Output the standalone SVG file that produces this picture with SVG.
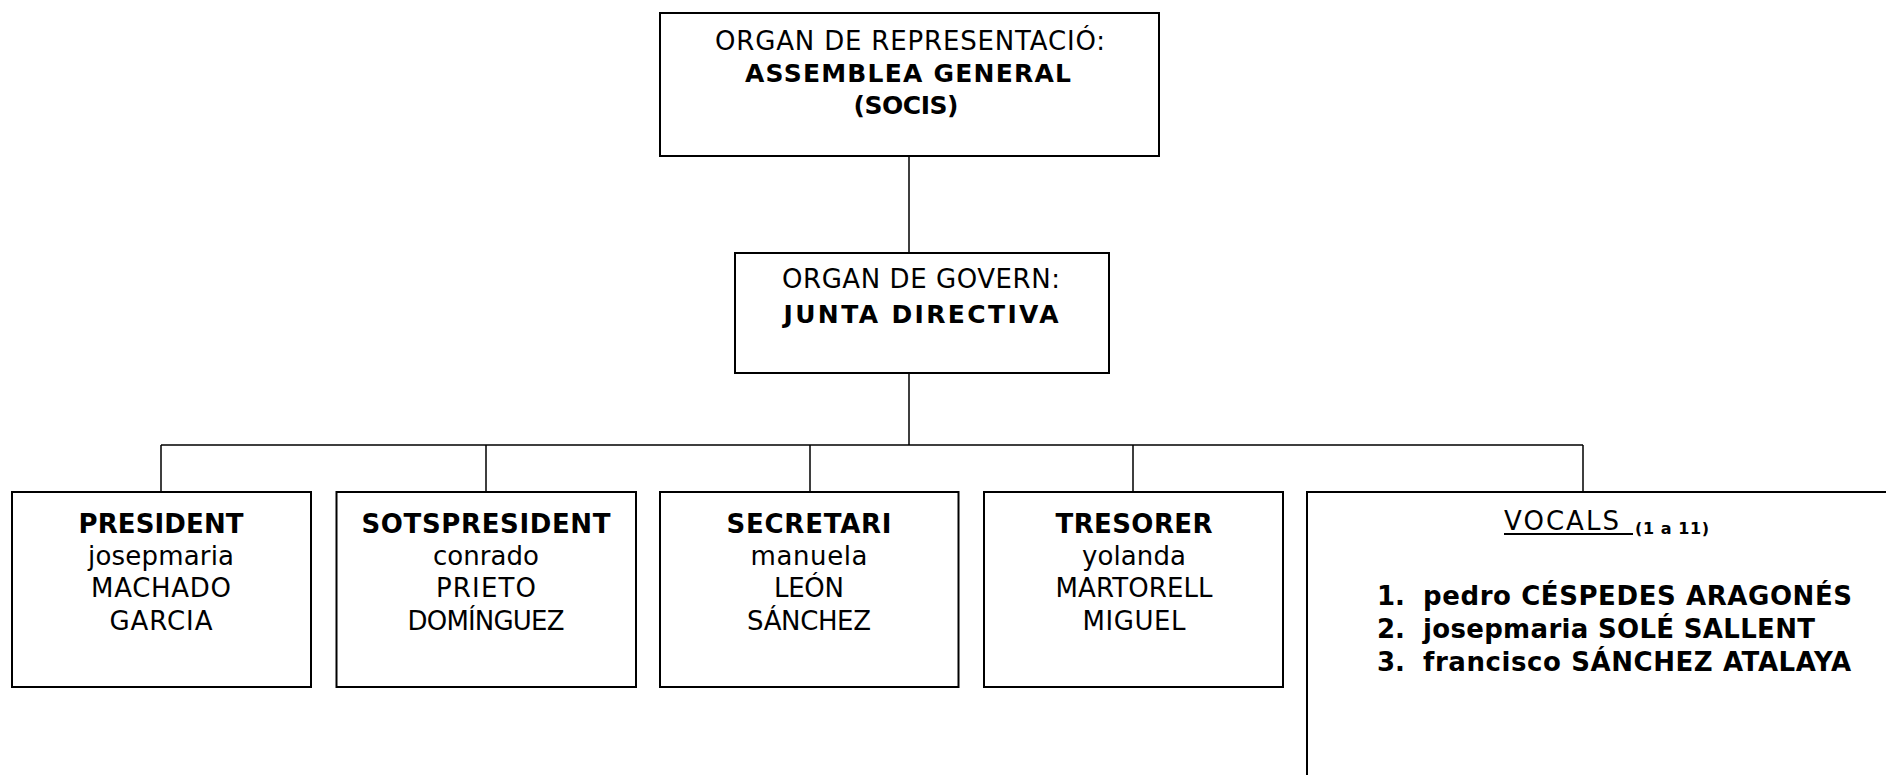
<svg xmlns="http://www.w3.org/2000/svg" width="1886" height="775" viewBox="0 0 1886 775">
<style>
  .box{fill:#fff;stroke:#000;stroke-width:2}
  .conn{stroke:#000;stroke-width:1.5;fill:none}
  text{font-family:"DejaVu Sans","Liberation Sans",Arial,sans-serif;fill:#000}
  .t{font-size:26px;text-anchor:middle}
  .tb{font-size:25px;font-weight:bold;text-anchor:middle}
  .h{font-size:26px;font-weight:bold;text-anchor:middle}
  .n{font-size:26px;text-anchor:middle}
  .v{font-size:26px;font-weight:bold}
  .vh{font-size:26px}
  .vs{font-size:16px;font-weight:bold}
</style>
<rect width="1886" height="775" fill="#fff"/>
<g id="connectors">
  <path class="conn" d="M909 156V253 M909 373V445 M161 445H1583 M161 445V492 M486 445V492 M810 445V492 M1133 445V492 M1583 445V492"/>
</g>
<g id="assemblea">
  <rect class="box" x="660" y="13" width="499" height="143"/>
  <text class="t" x="910" y="50" textLength="390" lengthAdjust="spacing">ORGAN DE REPRESENTACIÓ:</text>
  <text class="tb" x="908" y="82" textLength="326" lengthAdjust="spacing">ASSEMBLEA GENERAL</text>
  <text class="tb" x="906" y="114" textLength="105" lengthAdjust="spacing">(SOCIS)</text>
</g>
<g id="junta">
  <rect class="box" x="735" y="253" width="374" height="120"/>
  <text class="t" x="921" y="288" textLength="278" lengthAdjust="spacing">ORGAN DE GOVERN:</text>
  <text class="tb" x="921" y="323" textLength="275" lengthAdjust="spacing">JUNTA DIRECTIVA</text>
</g>
<g id="president">
  <rect class="box" x="12" y="492" width="299" height="195"/>
  <text class="h" x="161" y="533" textLength="165" lengthAdjust="spacing">PRESIDENT</text>
  <text class="n" x="161" y="564.5" textLength="146" lengthAdjust="spacing">josepmaria</text>
  <text class="n" x="161" y="597" textLength="140" lengthAdjust="spacing">MACHADO</text>
  <text class="n" x="161" y="629.5" textLength="103" lengthAdjust="spacing">GARCIA</text>
</g>
<g id="sotspresident">
  <rect class="box" x="336.5" y="492" width="299.5" height="195"/>
  <text class="h" x="486" y="533" textLength="249" lengthAdjust="spacing">SOTSPRESIDENT</text>
  <text class="n" x="486" y="564.5" textLength="106" lengthAdjust="spacing">conrado</text>
  <text class="n" x="486" y="597" textLength="100" lengthAdjust="spacing">PRIETO</text>
  <text class="n" x="486" y="629.5" textLength="157" lengthAdjust="spacing">DOMÍNGUEZ</text>
</g>
<g id="secretari">
  <rect class="box" x="660" y="492" width="298.5" height="195"/>
  <text class="h" x="809" y="533" textLength="165" lengthAdjust="spacing">SECRETARI</text>
  <text class="n" x="809" y="564.5" textLength="117" lengthAdjust="spacing">manuela</text>
  <text class="n" x="809" y="597" textLength="70" lengthAdjust="spacing">LEÓN</text>
  <text class="n" x="809" y="629.5" textLength="124" lengthAdjust="spacing">SÁNCHEZ</text>
</g>
<g id="tresorer">
  <rect class="box" x="984" y="492" width="299" height="195"/>
  <text class="h" x="1134" y="533" textLength="157" lengthAdjust="spacing">TRESORER</text>
  <text class="n" x="1134" y="564.5" textLength="104" lengthAdjust="spacing">yolanda</text>
  <text class="n" x="1134" y="597" textLength="157" lengthAdjust="spacing">MARTORELL</text>
  <text class="n" x="1134" y="629.5" textLength="103" lengthAdjust="spacing">MIGUEL</text>
</g>
<g id="vocals">
  <rect class="box" x="1307" y="492" width="620" height="320"/>
  <text class="vh" x="1504" y="530" textLength="115" lengthAdjust="spacing">VOCALS</text>
  <line x1="1504" y1="534" x2="1633" y2="534" stroke="#000" stroke-width="2"/>
  <text class="vs" x="1635" y="534" textLength="74" lengthAdjust="spacing">(1 a 11)</text>
  <text class="v" x="1377" y="604.5">1.</text>
  <text class="v" x="1423" y="604.5" textLength="429" lengthAdjust="spacing">pedro CÉSPEDES ARAGONÉS</text>
  <text class="v" x="1377" y="637.5">2.</text>
  <text class="v" x="1423" y="637.5" textLength="392" lengthAdjust="spacing">josepmaria SOLÉ SALLENT</text>
  <text class="v" x="1377" y="670.5">3.</text>
  <text class="v" x="1423" y="670.5" textLength="428" lengthAdjust="spacing">francisco SÁNCHEZ ATALAYA</text>
</g>
</svg>
